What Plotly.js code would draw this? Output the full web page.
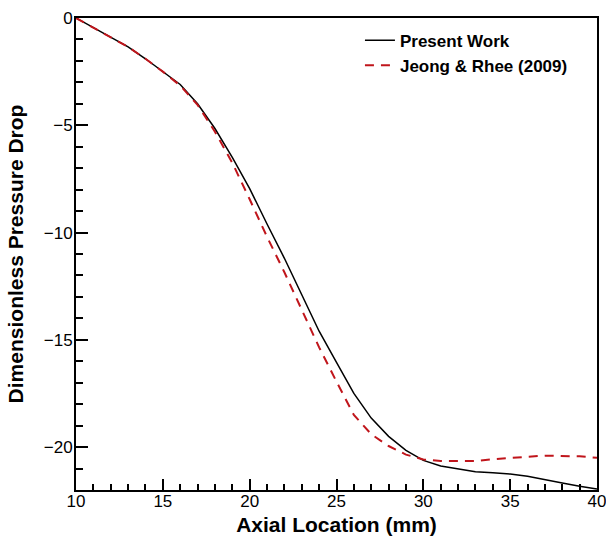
<!DOCTYPE html>
<html>
<head>
<meta charset="utf-8">
<script src="https://cdn.plot.ly/plotly-3.0.1.min.js"></script>
<style>html,body{margin:0;padding:0;background:#fff;}#chart{width:606px;height:536px;}</style>
</head>
<body>
<div id="chart"></div>
<script>
// Axial location (mm)
const axialX = [10,11,12,13,14,15,16,17,18,19,20,21,22,23,24,25,26,27,28,29,30,31,32,33,34,35,36,37,38,39,40];
// Present Work
const presentWork = [0,-0.45,-0.9,-1.35,-1.9,-2.5,-3.1,-4.0,-5.15,-6.5,-7.95,-9.6,-11.2,-12.9,-14.6,-16.05,-17.5,-18.65,-19.5,-20.15,-20.62,-20.88,-21.03,-21.15,-21.2,-21.26,-21.36,-21.5,-21.67,-21.83,-21.95];
// Jeong & Rhee (2009)
const jeongRhee = [0,-0.45,-0.9,-1.35,-1.9,-2.5,-3.15,-4.05,-5.3,-6.75,-8.45,-10.2,-11.85,-13.6,-15.35,-16.95,-18.5,-19.4,-19.95,-20.35,-20.58,-20.65,-20.65,-20.65,-20.57,-20.5,-20.45,-20.4,-20.4,-20.43,-20.5];
const seriesNames = ["Present Work", "Jeong & Rhee (2009)"];
const xTitle = "Axial Location (mm)";
const yTitle = "Dimensionless Pressure Drop";

const RED = "#c0151b";
const FONT = "Liberation Sans, Arial, Helvetica, sans-serif";

const traces = [
  {x: axialX, y: presentWork, name: "<b>" + seriesNames[0] + "</b>", type: "scatter", mode: "lines",
   line: {color: "#000", width: 1.5}},
  {x: axialX, y: jeongRhee, name: "<b>" + seriesNames[1] + "</b>", type: "scatter", mode: "lines",
   line: {color: RED, width: 2, dash: "9px,7px"}}
];

const layout = {
  width: 606, height: 536,
  margin: {l: 76, r: 9, t: 18, b: 46},
  showlegend: true,
  legend: {x: 0.545, y: 0.99, xanchor: "left", yanchor: "top", bgcolor: "rgba(0,0,0,0)",
           borderwidth: 0, font: {family: FONT, size: 17, color: "#000"}, tracegroupgap: 0},
  font: {family: FONT, size: 17, color: "#000"},
  xaxis: {
    range: [10, 40], dtick: 5,
    showgrid: false, zeroline: false,
    showline: true, linecolor: "#000", linewidth: 2, mirror: true,
    ticks: "inside", ticklen: 11, tickwidth: 2, tickcolor: "#000",
    minor: {ticks: "inside", dtick: 1, ticklen: 6},
    ticklabeloverflow: "allow", ticklabelstandoff: -5,
    title: {text: "<b>" + xTitle + "</b>", font: {family: FONT, size: 21, color: "#000"}}
  },
  yaxis: {
    range: [-22, 0], dtick: 5,
    showgrid: false, zeroline: false,
    showline: true, linecolor: "#000", linewidth: 2, mirror: true,
    ticks: "inside", ticklen: 12, tickwidth: 2, tickcolor: "#000",
    minor: {ticks: "inside", dtick: 1, ticklen: 7},
    ticklabelstandoff: -2,
    title: {text: "<b>" + yTitle + "</b>", font: {family: FONT, size: 21, color: "#000"}}
  }
};

Plotly.newPlot("chart", traces, layout, {displayModeBar: false, staticPlot: true});
</script>
</body>
</html>
